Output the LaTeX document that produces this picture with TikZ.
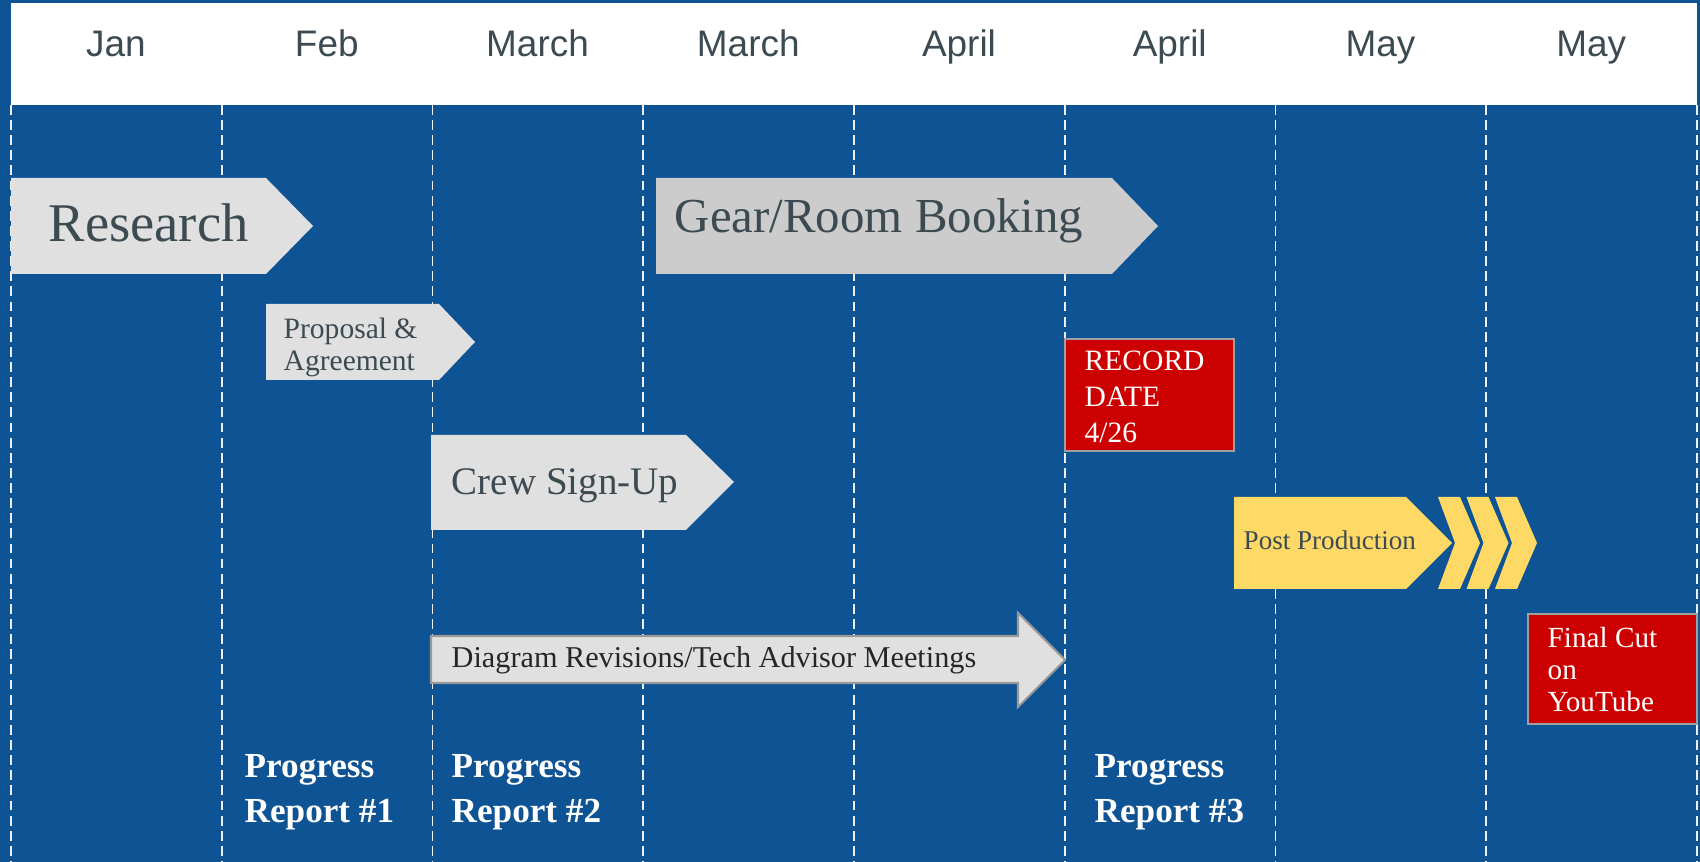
\documentclass[tikz,border=0pt]{standalone}
\usepackage{fontspec}
\setmainfont{Liberation Serif}
\newfontfamily\monthfont{Liberation Sans}
\usepackage{tikz}
\usetikzlibrary{positioning, calc}
\definecolor{bgblue}{HTML}{0E5394}
\definecolor{boxgray}{HTML}{E0E0E0}
\definecolor{geargray}{HTML}{CCCCCC}
\definecolor{inkgray}{HTML}{3C4A52}
\definecolor{recred}{HTML}{CC0000}
\definecolor{postgold}{HTML}{FFD966}

\begin{document}
\begin{tikzpicture}[x=0.01cm,y=-0.01cm,
				month/.style={anchor=base,inner sep=0,text=inkgray,font={\monthfont\fontsize{10.5}{12}\selectfont}},
				guide/.style={draw=white!88!gray,line width=0.45pt,dash pattern=on 2.8pt off 1.5pt},
				tag/.style={inner sep=0,text=inkgray,anchor=base west},
				redbox/.style={fill=recred,draw=gray!75,line width=0.6pt},
				note/.style={inner sep=0,text=white,align=left,anchor=north west,font={\fontsize{8.4}{10.24}\selectfont}},
				report/.style={inner sep=0,text=white,align=left,anchor=north west,font={\bfseries\fontsize{10}{12.8}\selectfont}}]
	\useasboundingbox (0,0) rectangle (1700,862);
	\fill[bgblue] (0,0) rectangle (1700,862);
	\fill[white] (11,3) rectangle (1697,105);
	\foreach \m [count=\i from 0] in {Jan,Feb,March,March,April,April,May,May}
		\node[month] (m\i) at ({116+210.75*\i},57) {\m};
	\foreach \i in {0,...,8}
		\draw[guide] ({11+210.75*\i},105) -- ({11+210.75*\i},862);

	\fill[boxgray] (11,178) -- (266,178) -- (313,226) -- (266,274) -- (11,274) -- cycle;
	\fill[geargray] (656,178) -- (1112,178) -- (1158,226) -- (1112,274) -- (656,274) -- cycle;
	\fill[boxgray] (266,304) -- (439,304) -- (475,342) -- (439,380) -- (266,380) -- cycle;
	\fill[boxgray] (431,435) -- (686,435) -- (734,482) -- (686,530) -- (431,530) -- cycle;
	\fill[postgold] (1234,497) -- (1406,497) -- (1452,543) -- (1406,589) -- (1234,589) -- cycle;
	\foreach \x in {1438,1466.5,1495}
		\fill[postgold] (\x,497) -- (\x+22,497) -- (\x+42,543) -- (\x+22,589) -- (\x,589) -- (\x+17,543) -- cycle;
	\filldraw[fill=boxgray,draw=gray!80,line width=0.6pt] (431,636) -- (1018,636) -- (1018,613) -- (1065,660)
		-- (1018,707) -- (1018,683) -- (431,683) -- cycle;
	\filldraw[redbox] (1065,339) rectangle (1234,451);
	\filldraw[redbox] (1528,614) rectangle (1697,724);

	\node[tag,font={\fontsize{15.5}{18}\selectfont}] (research) at (48,242) {Research};
	\node[tag,font={\fontsize{13.9}{16}\selectfont}] (gear) at (674,233) {Gear/Room Booking};
	\node[tag,align=left,anchor=north west,font={\fontsize{8.4}{9.1}\selectfont}] (proposal) at (283,317) {Proposal \&\\Agreement};
	\node[tag,font={\fontsize{11.1}{13}\selectfont}] (crew) at (451,495) {Crew Sign-Up};
	\node[tag,text=black!85,font={\fontsize{8.6}{10}\selectfont}] (diagram) at (451,668) {Diagram Revisions/Tech Advisor Meetings};
	\node[tag,font={\fontsize{7.7}{9}\selectfont}] (post) at (1243,550) {Post Production};
	\node[note] (record) at (1084,350) {RECORD\\DATE\\4/26};
	\node[note,font={\fontsize{8.3}{9.1}\selectfont}] (final) at (1547,627) {Final Cut\\on\\YouTube};
	\node[report] (rep1) at (244,754) {Progress\\Report \#1};
	\node[report] (rep2) at (451,754) {Progress\\Report \#2};
	\node[report] (rep3) at (1094,754) {Progress\\Report \#3};
\end{tikzpicture}
\end{document}
